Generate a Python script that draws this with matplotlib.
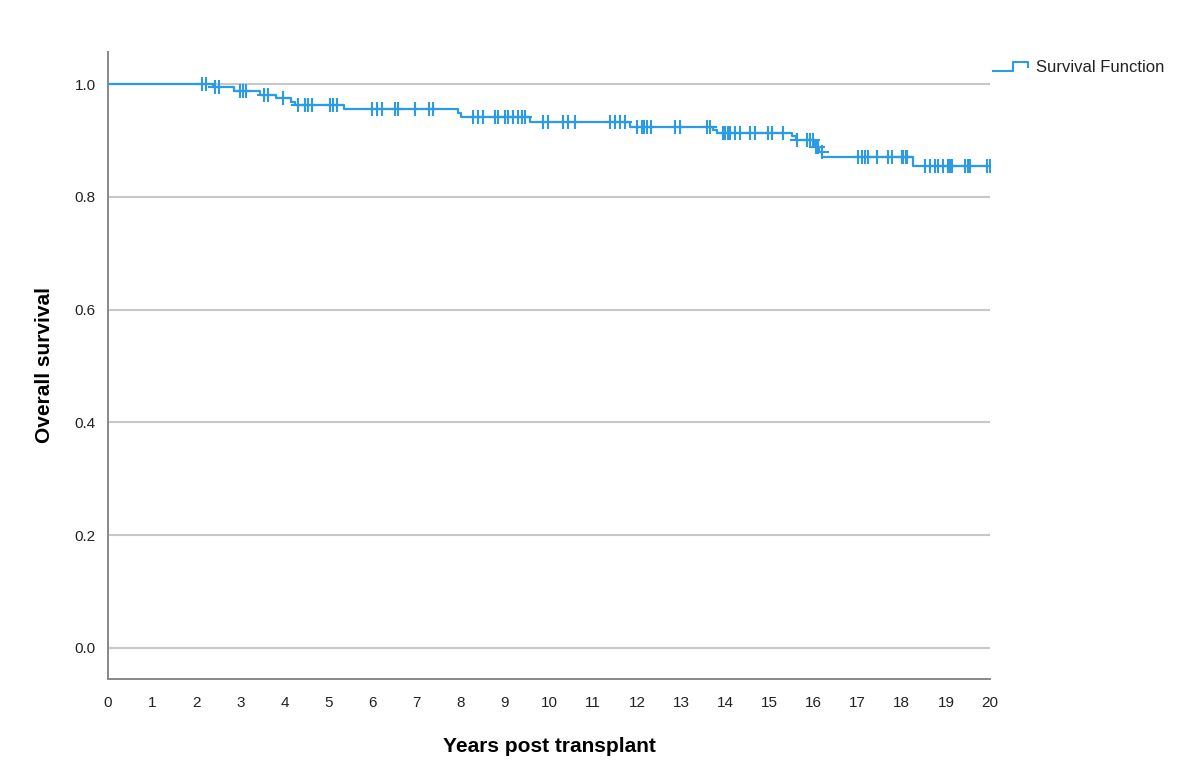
import matplotlib.pyplot as plt
from matplotlib.lines import Line2D
import numpy as np

plt.rcParams['font.family'] = ['Liberation Sans', 'DejaVu Sans']

# Kaplan-Meier steps: time (years) where survival drops, and the new level
step_times = [0, 2.38, 2.85, 3.45, 3.8, 4.15, 4.25, 5.35, 7.93, 8.0, 9.57,
              11.84, 13.72, 13.8, 15.51, 15.6, 16.03, 16.12, 16.2, 18.25]
step_surv = [1.0, 0.994, 0.988, 0.981, 0.975, 0.968, 0.962, 0.955, 0.948, 0.941, 0.933,
             0.924, 0.919, 0.913, 0.907, 0.901, 0.888, 0.879, 0.871, 0.855]

# censored observations
censor_times = [2.13, 2.22, 2.43, 2.52, 2.99, 3.06, 3.13, 3.54, 3.63, 3.97, 4.3, 4.47, 4.54,
                4.62, 5.03, 5.1, 5.19, 5.98, 6.1, 6.21, 6.5, 6.58, 6.96, 7.28, 7.37,
                8.28, 8.39, 8.5, 8.78, 8.84, 9.0, 9.07, 9.18, 9.3, 9.39, 9.46,
                9.86, 9.98, 10.32, 10.43, 10.59, 11.38, 11.5, 11.61, 11.72,
                12.0, 12.1, 12.15, 12.22, 12.31, 12.86, 12.97, 13.58, 13.65,
                13.95, 14.0, 14.05, 14.1, 14.22, 14.33, 14.56, 14.67, 14.97, 15.06, 15.31,
                15.62, 15.85, 15.92, 15.99, 16.06, 16.1, 16.19,
                17.0, 17.1, 17.17, 17.23, 17.44, 17.69, 17.78, 18.0, 18.03, 18.1, 18.12,
                18.53, 18.64, 18.75, 18.82, 18.93, 19.05, 19.09, 19.14,
                19.43, 19.5, 19.55, 19.93, 20.0]

color = '#2b9be6'

fig = plt.figure(figsize=(12, 7.8), dpi=100)
ax = fig.add_axes([0.09, 0.1295, 0.735, 0.804])

x = step_times + [20]
y = step_surv + [step_surv[-1]]
ax.step(x, y, where='post', color=color, linewidth=1.6, zorder=3)

idx = np.searchsorted(step_times, censor_times, side='right') - 1
cy = np.array(step_surv)[idx]
ax.plot(censor_times, cy, linestyle='none', marker='+', markersize=10,
        markeredgewidth=1.5, color=color, zorder=4)

ax.set_xlim(0, 20)
ax.set_ylim(-0.055, 1.057)
ax.set_xticks(range(0, 21))
ax.set_yticks([0.0, 0.2, 0.4, 0.6, 0.8, 1.0])
ax.set_yticklabels(['0.0', '0.2', '0.4', '0.6', '0.8', '1.0'])
ax.yaxis.grid(True, color='#c8c8c8', linewidth=1.5)
ax.set_axisbelow(True)
ax.tick_params(length=0, labelsize=11, colors='#222222')
ax.tick_params(axis='x', pad=12)
ax.tick_params(axis='y', pad=9)
for s in ['top', 'right']:
    ax.spines[s].set_visible(False)
for s in ['left', 'bottom']:
    ax.spines[s].set_color('#888888')
    ax.spines[s].set_linewidth(1.4)

ax.set_xlabel('Years post transplant', fontsize=15, fontweight='bold', labelpad=20)
ax.set_ylabel('Overall survival', fontsize=15, fontweight='bold', labelpad=15)

# legend with a step-shaped handle
W, H = 1200.0, 780.0
lx = np.array([993, 1013, 1013, 1028, 1028]) / W
ly = 1 - np.array([71, 71, 62, 62, 67]) / H
fig.add_artist(Line2D(lx, ly, color=color, linewidth=1.5))
fig.text(1036 / W, 1 - 68 / H, 'Survival Function', fontsize=12, va='center',
         ha='left', color='#222222')

fig.savefig('out.png', dpi=100)
